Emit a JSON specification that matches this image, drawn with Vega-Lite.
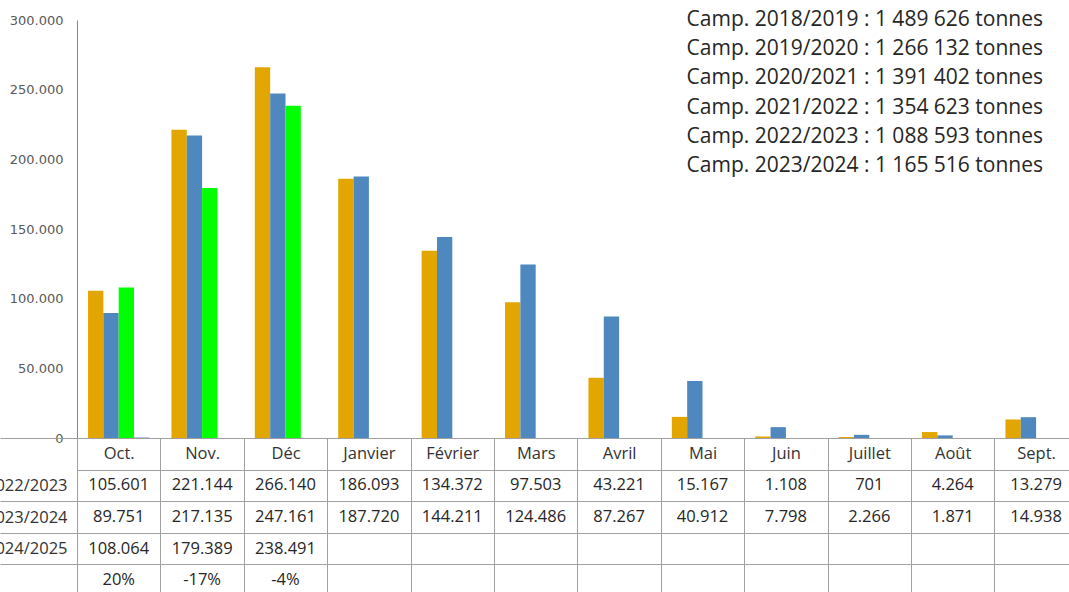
{
  "$schema": "https://vega.github.io/schema/vega-lite/v6.json",
  "background": "white",
  "padding": {"left": -15, "right": -9, "top": 9, "bottom": -3},
  "spacing": 0,
  "bounds": "flush",
  "config": {
    "view": {"stroke": null},
    "font": "Open Sans",
    "locale": {"number": {"decimal": ",", "thousands": ".", "grouping": [3], "currency": ["", " €"], "minus": "-"}}
  },
  "datasets": {
    "t": [
      {"m": "Oct.", "s": "2022/2023", "v": 105601},
      {"m": "Nov.", "s": "2022/2023", "v": 221144},
      {"m": "Déc", "s": "2022/2023", "v": 266140},
      {"m": "Janvier", "s": "2022/2023", "v": 186093},
      {"m": "Février", "s": "2022/2023", "v": 134372},
      {"m": "Mars", "s": "2022/2023", "v": 97503},
      {"m": "Avril", "s": "2022/2023", "v": 43221},
      {"m": "Mai", "s": "2022/2023", "v": 15167},
      {"m": "Juin", "s": "2022/2023", "v": 1108},
      {"m": "Juillet", "s": "2022/2023", "v": 701},
      {"m": "Août", "s": "2022/2023", "v": 4264},
      {"m": "Sept.", "s": "2022/2023", "v": 13279},
      {"m": "Oct.", "s": "2023/2024", "v": 89751},
      {"m": "Nov.", "s": "2023/2024", "v": 217135},
      {"m": "Déc", "s": "2023/2024", "v": 247161},
      {"m": "Janvier", "s": "2023/2024", "v": 187720},
      {"m": "Février", "s": "2023/2024", "v": 144211},
      {"m": "Mars", "s": "2023/2024", "v": 124486},
      {"m": "Avril", "s": "2023/2024", "v": 87267},
      {"m": "Mai", "s": "2023/2024", "v": 40912},
      {"m": "Juin", "s": "2023/2024", "v": 7798},
      {"m": "Juillet", "s": "2023/2024", "v": 2266},
      {"m": "Août", "s": "2023/2024", "v": 1871},
      {"m": "Sept.", "s": "2023/2024", "v": 14938},
      {"m": "Oct.", "s": "2024/2025", "v": 108064},
      {"m": "Nov.", "s": "2024/2025", "v": 179389},
      {"m": "Déc", "s": "2024/2025", "v": 238491},
      {"m": "Oct.", "s": "pct", "v": 0.2},
      {"m": "Nov.", "s": "pct", "v": -0.17},
      {"m": "Déc", "s": "pct", "v": -0.04}
    ]
  },
  "vconcat": [
    {
      "width": 992,
      "height": 418,
      "data": {"name": "t"},
      "title": {
        "text": [
          "Camp. 2018/2019 : 1 489 626 tonnes",
          "Camp. 2019/2020 : 1 266 132 tonnes",
          "Camp. 2020/2021 : 1 391 402 tonnes",
          "Camp. 2021/2022 : 1 354 623 tonnes",
          "Camp. 2022/2023 : 1 088 593 tonnes",
          "Camp. 2023/2024 : 1 165 516 tonnes"
        ],
        "orient": "top",
        "anchor": "end",
        "frame": "group",
        "baseline": "top",
        "offset": -162,
        "dx": -26,
        "font": "Open Sans",
        "fontSize": 21,
        "fontWeight": "normal",
        "color": "#262626",
        "lineHeight": 29.2
      },
      "layer": [
        {
          "transform": [{"filter": "datum.s !== 'pct'"}],
          "mark": {"type": "bar", "clip": true},
          "encoding": {
            "x": {
              "field": "m", "type": "nominal",
              "scale": {"domain": ["Oct.", "Nov.", "Déc", "Janvier", "Février", "Mars", "Avril", "Mai", "Juin", "Juillet", "Août", "Sept."], "range": [0, 1000.8], "paddingInner": 0, "paddingOuter": 0},
              "axis": null
            },
            "xOffset": {
              "field": "s", "type": "nominal",
              "scale": {"domain": ["2022/2023", "2023/2024", "2024/2025", "pct"], "paddingInner": 0, "paddingOuter": 0.72}
            },
            "y": {
              "field": "v", "type": "quantitative",
              "scale": {"domain": [0, 300000], "nice": false},
              "axis": {
                "title": null,
                "values": [0, 50000, 100000, 150000, 200000, 250000, 300000],
                "format": ",d",
                "domain": true,
                "domainColor": "#888888",
                "ticks": false,
                "grid": false,
                "labelFont": "DejaVu Sans",
                "labelFontSize": 13,
                "labelColor": "#595959",
                "labelPadding": 14
              }
            },
            "color": {
              "field": "s", "type": "nominal",
              "scale": {"domain": ["2022/2023", "2023/2024", "2024/2025", "pct"], "range": ["#E3A600", "#4F88BE", "#00FF00", "#A3ACE0"]},
              "legend": null
            }
          }
        },
        {
          "transform": [{"filter": "datum.s === 'pct'"}],
          "mark": {"type": "bar", "clip": true, "color": "#A3ACE0", "stroke": "#A3ACE0", "strokeWidth": 1},
          "encoding": {
            "x": {"field": "m", "type": "nominal"},
            "xOffset": {"field": "s", "type": "nominal"},
            "y": {"field": "v", "type": "quantitative"},
            "strokeOpacity": {"condition": {"test": "datum.v < 0", "value": 0}, "value": 1}
          }
        }
      ]
    },
    {
      "width": 992,
      "height": 155,
      "data": {"name": "t"},
      "encoding": {
        "x": {
          "field": "m", "type": "nominal",
          "scale": {"domain": ["Oct.", "Nov.", "Déc", "Janvier", "Février", "Mars", "Avril", "Mai", "Juin", "Juillet", "Août", "Sept."], "range": [0, 1000.8], "paddingInner": 0, "paddingOuter": 0},
          "axis": {
            "orient": "top",
            "title": null,
            "domain": false,
            "ticks": false,
            "tickSize": 0,
            "tickBand": "extent",
            "grid": true,
            "gridColor": "#A0A0A0",
            "gridOpacity": 1,
            "labelAngle": 0,
            "labelPadding": -15.5,
            "labelBaseline": "middle",
            "labelFont": "Open Sans",
            "labelFontSize": 16.5,
            "labelColor": "#333333"
          }
        },
        "y": {
          "field": "s", "type": "nominal",
          "scale": {"domain": ["h", "2022/2023", "2023/2024", "2024/2025", "pct"], "range": [0, 158], "paddingInner": 0, "paddingOuter": 0},
          "axis": {
            "title": null,
            "domain": false,
            "ticks": true,
            "tickSize": 77,
            "tickBand": "extent",
            "tickColor": {"condition": {"test": "datum.value === 'h'", "value": "transparent"}, "value": "#A0A0A0"},
            "grid": true,
            "gridColor": "#A0A0A0",
            "gridOpacity": 1,
            "labelExpr": "datum.value === 'h' || datum.value === 'pct' ? '' : datum.value",
            "labelPadding": -67,
            "labelFont": "Open Sans",
            "labelFontSize": 16.5,
            "labelColor": "#333333"
          }
        }
      },
      "layer": [
        {
          "transform": [{"filter": "datum.s !== 'pct'"}],
          "mark": {"type": "text", "font": "Open Sans", "fontSize": 16.5, "color": "#262626", "baseline": "middle", "align": "center"},
          "encoding": {"text": {"field": "v", "type": "quantitative", "format": ",d"}}
        },
        {
          "transform": [{"filter": "datum.s === 'pct'"}],
          "mark": {"type": "text", "font": "Open Sans", "fontSize": 16.5, "color": "#262626", "baseline": "middle", "align": "center"},
          "encoding": {"text": {"field": "v", "type": "quantitative", "format": ".0%"}}
        }
      ]
    }
  ]
}
